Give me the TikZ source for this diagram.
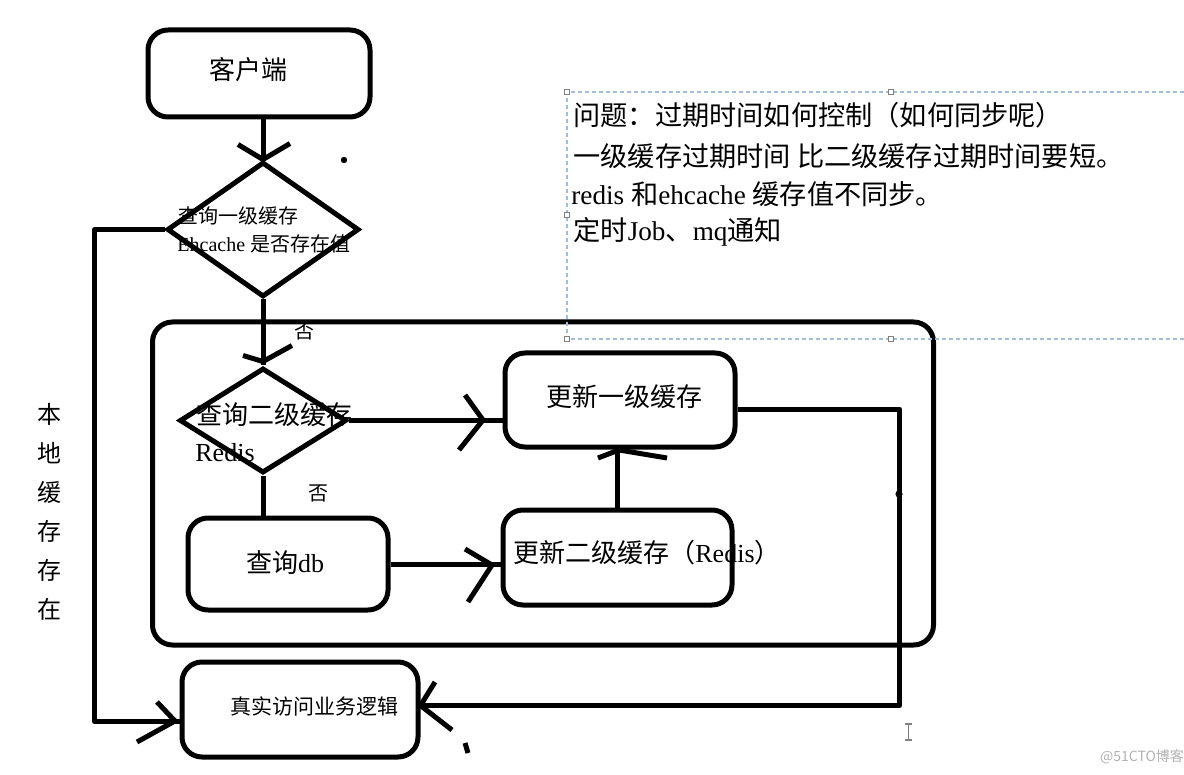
\documentclass[tikz,border=0pt]{standalone}
\usepackage{fontspec}
\setmainfont{Liberation Serif}
\newfontfamily\cjk{Noto Sans CJK SC}
\usetikzlibrary{shapes.geometric,calc}
\begin{document}
\begin{tikzpicture}[x=0.5pt,y=-0.5pt,
  box/.style={draw,line width=2.5pt,rounded corners=10pt,inner sep=0pt},
  dia/.style={draw,diamond,line width=2.5pt,inner sep=0pt},
  conn/.style={line width=2.5pt,line join=round},
  big/.style={inner sep=0pt,font=\fontsize{13pt}{15pt}\selectfont},
  small/.style={inner sep=0pt,font=\fontsize{10pt}{12pt}\selectfont},
  note/.style={inner sep=0pt,anchor=west,font=\fontsize{13.6pt}{15pt}\selectfont},
  dashbox/.style={draw={rgb,255:red,160;green,190;blue,220},line width=0.6pt,dash pattern=on 2pt off 1.5pt},
  handle/.style={draw=gray,fill=white,line width=0.4pt,minimum size=2.5pt,inner sep=0pt},
]
\useasboundingbox (0,0) rectangle (1184,775);
\fill[white] (0,0) rectangle (1184,775);

% boxes
\node[box,minimum width=111pt,minimum height=43.5pt] (client) at (259,73.5) {};
\node[dia,minimum width=96pt,minimum height=67.5pt] (d1) at (263,229.5) {};
\node[box,minimum width=390.5pt,minimum height=161.5pt] (outer) at (543,483.5) {};
\node[dia,minimum width=83.5pt,minimum height=52.5pt] (d2) at (263,420.5) {};
\node[box,minimum width=115pt,minimum height=47pt] (up1) at (620,400) {};
\node[box,minimum width=100pt,minimum height=46pt] (db) at (288,564) {};
\node[box,minimum width=114.5pt,minimum height=47.5pt] (up2) at (617.5,557.5) {};
\node[box,minimum width=118pt,minimum height=47.5pt] (real) at (300,709.5) {};

% labels
\node[big] (tclient) at (248,70) {\cjk 客户端};
\node[small,anchor=west] (td1a) at (178,216) {\cjk 查询一级缓存};
\node[small,anchor=west] (td1b) at (177,244) {Ehcache {\cjk 是否存在值}};
\node[big,anchor=west] (td2a) at (196,415) {\cjk 查询二级缓存};
\node[big,anchor=west] (td2b) at (195,453) {Redis};
\node[big] (tup1) at (624,397) {\cjk 更新一级缓存};
\node[big] (tdb) at (285,563) {{\cjk 查询}db};
\node[big] (tup2) at (647,553) {{\cjk 更新二级缓存（}Redis{\cjk ）}};
\node[inner sep=0pt,font=\cjk\fontsize{10.5pt}{12pt}\selectfont] (treal) at (314,706) {真实访问业务逻辑};
\node[small] (no1) at (304,331) {\cjk 否};
\node[small] (no2) at (318,493) {\cjk 否};
\node[inner sep=0pt,align=center,font=\cjk\fontsize{12pt}{19.5pt}\selectfont] (tlocal) at (49,512) {本\\地\\缓\\存\\存\\在};

% connectors
\draw[conn] (d1.north |- client.south) -- (d1.north);
\draw[conn] ($(d1.north)+(-25,-15)$) -- (d1.north) -- ($(d1.north)+(27,-16)$);
\draw[conn] (d1.south) -- (d2.north);
\draw[conn] ($(d2.north)+(-20,-10)$) -- ($(d2.north)+(0,-4)$) -- ($(d2.north)+(29,-20)$);
\draw[conn] (d2.east) -- (d2.east -| up1.west);
\coordinate (a2) at (483,420);
\draw[conn] ($(a2)+(-18,-25)$) -- (a2) -- ($(a2)+(-24,30)$);
\draw[conn] (d2.south) -- (d2.south |- db.north);
\draw[conn] (db.east) -- (db.east -| up2.west);
\coordinate (a3) at (492,565);
\draw[conn] ($(a3)+(-27,-16)$) -- (a3) -- ($(a3)+(-24,37)$);
\draw[conn] (up2.north) -- (up2.north |- up1.south);
\coordinate (a4) at (619,450);
\draw[conn] ($(a4)+(-21,8)$) -- (a4) -- ($(a4)+(48,8)$);
\draw[conn] ($(up1.east)+(0,9)$) -| ($(real.east)+(479,-4)$) -- ($(real.east)+(0,-4)$);
\draw[conn] (435,682) -- ($(real.east)+(0,-4)$) -- (452,730);
\draw[conn] (d1.west) -| ($(real.west)+(-85,12)$) -- ($(real.west)+(0,12)$);
\coordinate (a6) at (175,721);
\draw[conn] (157,702) -- (a6) -- (137,742);

% stray marks
\fill (344,160) circle[radius=1.6pt];
\fill (899,494) circle[radius=1.8pt];
\draw[line width=2.5pt] (465,743) -- (468,753);
\draw[gray,line width=0.6pt] (905,724) -- (912,724) (908.5,724) -- (908.5,740) (905,740) -- (912,740);

% note box
\draw[dashbox] (1184,92) -- (567,92) -- (567,339) -- (1184,339);
\foreach \p in {(567,92),(891,92),(567,215),(567,339),(891,339)} \node[handle] at \p {};
\node[note] (n1) at (573,115) {\cjk 问题：过期时间如何控制（如何同步呢）};
\node[note] (n2) at (573,156) {\cjk 一级缓存过期时间 比二级缓存过期时间要短。};
\node[note] (n3) at (571,194) {redis {\cjk 和}ehcache {\cjk 缓存值不同步。}};
\node[note] (n4) at (573,232) {{\cjk 定时}Job{\cjk 、}mq{\cjk 通知}};

\node[inner sep=0pt,text=gray!60,font=\cjk\fontsize{7pt}{8pt}\selectfont] (wm) at (1142,757) {@51CTO博客};
\end{tikzpicture}
\end{document}
